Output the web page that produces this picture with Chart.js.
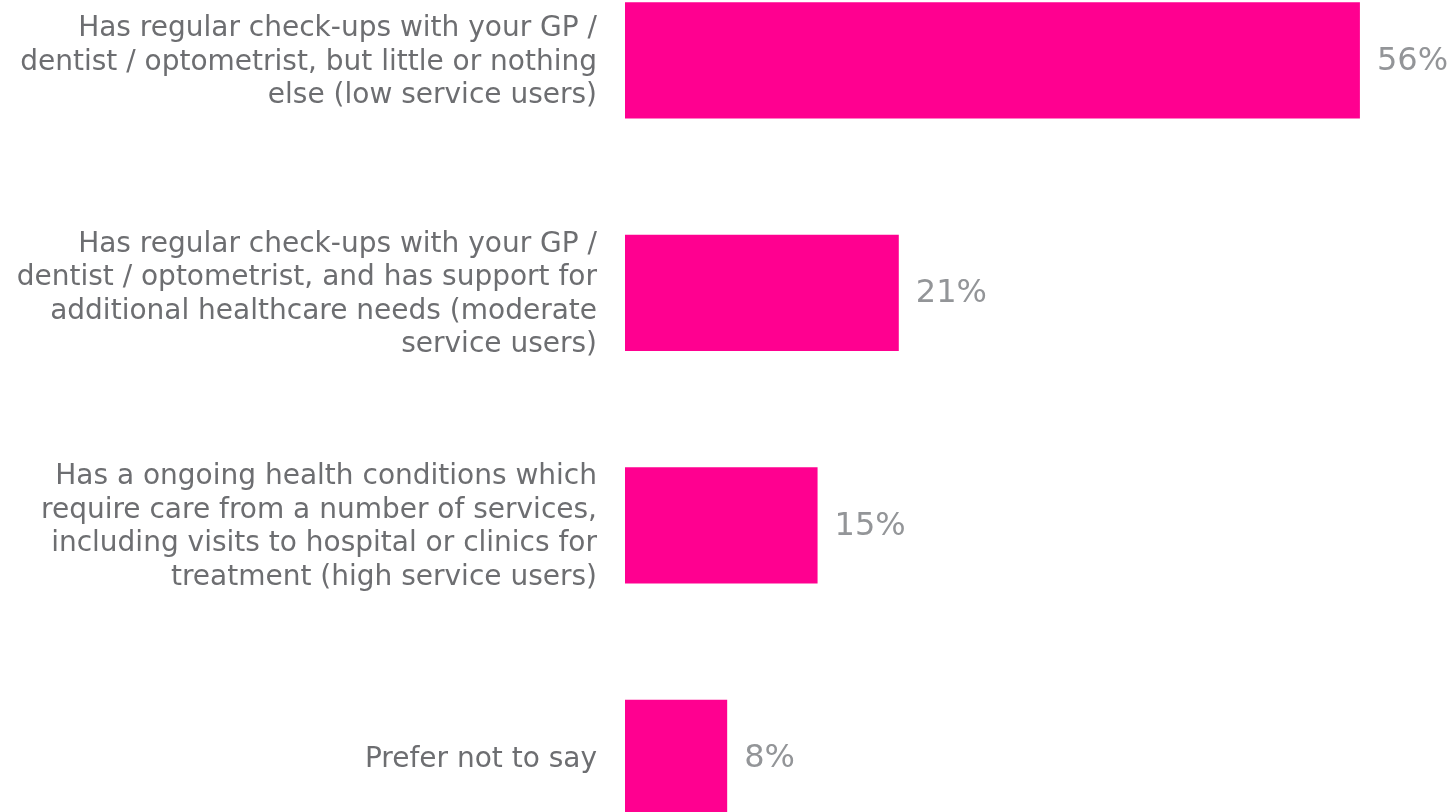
<!DOCTYPE html>
<html>
<head>
<meta charset="utf-8">
<script src="https://cdn.jsdelivr.net/npm/chart.js@4"></script>
<style>
  html, body { margin: 0; padding: 0; background: #ffffff; overflow: hidden; width: 1453px; height: 812px; }
  #wrap { position: absolute; left: 0; top: -56px; width: 1453px; height: 930px; }
</style>
</head>
<body>
<div id="wrap"><canvas id="c" width="1453" height="930"></canvas></div>
<script>
const categories = [
  ["Has regular check-ups with your GP /", "dentist / optometrist, but little or nothing", "else (low service users)"],
  ["Has regular check-ups with your GP /", "dentist / optometrist, and has support for", "additional healthcare needs (moderate", "service users)"],
  ["Has a ongoing health conditions which", "require care from a number of services,", "including visits to hospital or clinics for", "treatment (high service users)"],
  ["Prefer not to say"]
];
const values = [56.1, 20.9, 14.7, 7.8];
const valueLabels = ["56%", "21%", "15%", "8%"];

const valueLabelPlugin = {
  id: 'valueLabels',
  afterDatasetsDraw(chart) {
    const ctx = chart.ctx;
    const meta = chart.getDatasetMeta(0);
    ctx.save();
    ctx.font = '32px "DejaVu Sans"';
    ctx.fillStyle = '#939598';
    ctx.textAlign = 'left';
    ctx.textBaseline = 'middle';
    meta.data.forEach((bar, i) => {
      ctx.fillText(valueLabels[i], bar.x + 17, bar.y + 1);
    });
    ctx.restore();
  }
};

new Chart(document.getElementById('c'), {
  type: 'bar',
  data: {
    labels: categories,
    datasets: [{
      data: values,
      backgroundColor: '#FF0090',
      borderWidth: 0,
      categoryPercentage: 1.0,
      barPercentage: 0.5
    }]
  },
  options: {
    indexAxis: 'y',
    responsive: false,
    animation: false,
    layout: { padding: { left: 0, right: 42, top: 0, bottom: 0 } },
    plugins: { legend: { display: false }, tooltip: { enabled: false } },
    scales: {
      x: { display: false, min: 0, max: 60 },
      y: {
        grid: { display: false },
        border: { display: false },
        afterFit(scale) {
          scale.width = 625;
          scale.paddingTop = 0;
          scale.paddingBottom = 0;
        },
        ticks: {
          padding: 20,
          labelOffset: 2,
          color: '#6d6e71',
          font: { family: '"DejaVu Sans"', size: 28, lineHeight: 1.2 }
        }
      }
    }
  },
  plugins: [valueLabelPlugin]
});
</script>
</body>
</html>
